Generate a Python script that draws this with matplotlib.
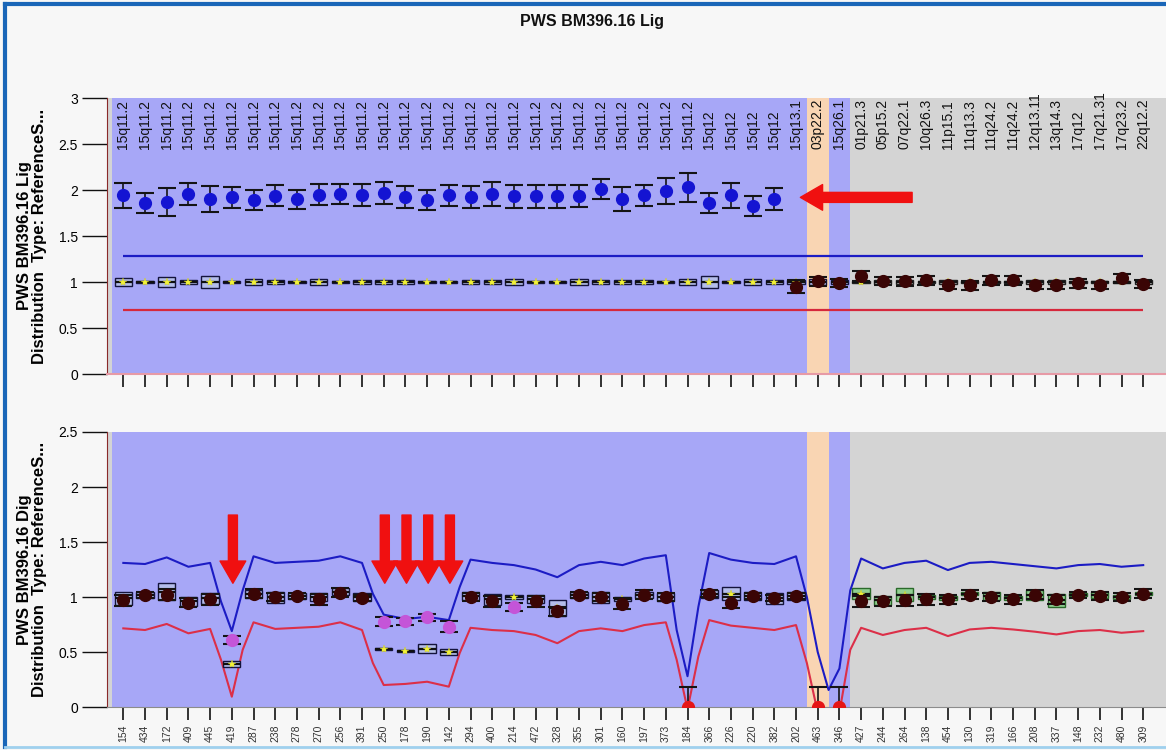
import numpy as np
import matplotlib
matplotlib.use("Agg")
import matplotlib.pyplot as plt
from matplotlib.ticker import FormatStrFormatter
from matplotlib.lines import Line2D

plt.rcParams['font.family'] = ['Liberation Sans', 'DejaVu Sans']

# probe ids (bottom axis) and their loci (top labels)
probe_ids = ["154", "434", "172", "409", "445", "419", "287", "238", "278", "270", "256", "391",
             "250", "178", "190", "142", "294", "400", "214", "472", "328", "355", "301", "160",
             "197", "373", "184", "366", "226", "220", "382", "202", "463", "346", "427", "244",
             "264", "138", "454", "130", "319", "166", "208", "337", "148", "232", "480", "309"]
loci = ["15q11.2", "15q11.2", "15q11.2", "15q11.2", "15q11.2", "15q11.2", "15q11.2", "15q11.2",
        "15q11.2", "15q11.2", "15q11.2", "15q11.2", "15q11.2", "15q11.2", "15q11.2", "15q11.2",
        "15q11.2", "15q11.2", "15q11.2", "15q11.2", "15q11.2", "15q11.2", "15q11.2", "15q11.2",
        "15q11.2", "15q11.2", "15q11.2", "15q12", "15q12", "15q12", "15q12", "15q13.1",
        "03p22.2", "15q26.1", "01p21.3", "05p15.2", "07q22.1", "10q26.3", "11p15.1", "11q13.3",
        "11q24.2", "11q24.2", "12q13.11", "13q14.3", "17q12", "17q21.31", "17q23.2", "22q12.2"]
# background region per probe: B = target chr15, O = control, G = reference probes
shade = list("BBBBBBBBBBBBBBBBBBBBBBBBBBBBBBBBOBGGGGGGGGGGGGGG")

# ---- Lig panel (top) ----
lig_ratio = [1.945, 1.855, 1.87, 1.96, 1.90, 1.92, 1.89, 1.94, 1.90, 1.95, 1.96, 1.945,
             1.97, 1.92, 1.89, 1.945, 1.92, 1.96, 1.93, 1.93, 1.93, 1.935, 2.01, 1.90,
             1.945, 1.99, 2.03, 1.855, 1.945, 1.83, 1.90, 0.95, 1.01, 0.99, 1.065, 1.01,
             1.01, 1.02, 0.965, 0.965, 1.02, 1.02, 0.965, 0.965, 0.985, 0.965, 1.04, 0.98]
lig_err = [0.135, 0.11, 0.15, 0.12, 0.14, 0.11, 0.11, 0.11, 0.105, 0.115, 0.11, 0.12,
           0.12, 0.12, 0.11, 0.115, 0.12, 0.13, 0.12, 0.12, 0.12, 0.12, 0.11, 0.13,
           0.115, 0.14, 0.16, 0.11, 0.135, 0.11, 0.12, 0.07, 0.05, 0.04, 0.05, 0.04,
           0.05, 0.05, 0.04, 0.05, 0.05, 0.05, 0.04, 0.04, 0.05, 0.04, 0.05, 0.04]
lig_call = list("GGGGGGGGGGGGGGGGGGGGGGGGGGGGGGGNNNNNNNNNNNNNNNNN")
lig_ref = [1.0, 1.0, 1.0, 1.0, 1.0, 1.0, 1.0, 1.0, 1.0, 1.0, 1.0, 1.0,
           1.0, 1.0, 1.0, 1.0, 1.0, 1.0, 1.0, 1.0, 1.0, 1.0, 1.0, 1.0,
           1.0, 1.0, 1.0, 1.0, 1.0, 1.0, 1.0, 1.0, 1.0, 1.0, 1.0, 1.0,
           1.0, 1.0, 1.0, 1.0, 1.0, 1.0, 1.0, 1.0, 1.0, 1.0, 1.0, 1.0]
lig_ref_box = [0.08, 0.03, 0.11, 0.05, 0.13, 0.03, 0.07, 0.04, 0.02, 0.06, 0.02, 0.05,
               0.05, 0.04, 0.02, 0.02, 0.04, 0.05, 0.06, 0.02, 0.02, 0.07, 0.05, 0.04,
               0.05, 0.02, 0.07, 0.13, 0.02, 0.07, 0.05, 0.05, 0.06, 0.05, 0.03, 0.05,
               0.05, 0.03, 0.04, 0.03, 0.03, 0.03, 0.04, 0.04, 0.03, 0.03, 0.03, 0.04]
lig_upper = 1.28
lig_lower = 0.70

# ---- Dig panel (bottom) ----
dig_ratio = [0.97, 1.02, 1.02, 0.95, 0.98, 0.61, 1.03, 1.00, 1.01, 0.98, 1.04, 0.99,
             0.775, 0.78, 0.815, 0.73, 1.00, 0.96, 0.91, 0.96, 0.87, 1.02, 1.00, 0.94,
             1.02, 1.00, 0.0, 1.03, 0.95, 1.01, 0.99, 1.01, 0.0, 0.0, 0.96, 0.96,
             0.97, 0.98, 0.98, 1.02, 1.00, 0.98, 1.02, 0.98, 1.02, 1.01, 1.00, 1.03]
dig_err = [0.05, 0.03, 0.05, 0.04, 0.05, 0.035, 0.04, 0.04, 0.03, 0.05, 0.04, 0.03,
           0.04, 0.03, 0.03, 0.05, 0.04, 0.05, 0.04, 0.05, 0.04, 0.03, 0.04, 0.05,
           0.04, 0.04, 0.185, 0.03, 0.05, 0.03, 0.03, 0.03, 0.185, 0.185, 0.05, 0.04,
           0.05, 0.05, 0.04, 0.04, 0.04, 0.04, 0.04, 0.04, 0.03, 0.04, 0.04, 0.04]
dig_call = list("NNNNNLNNNNNNLLLLNNLNNNNNNNZNNNNNZZNNNNNNNNNNNNNN")
dig_ref = [0.99, 1.02, 1.05, 0.96, 0.99, 0.39, 1.03, 1.00, 1.01, 1.00, 1.05, 1.00,
           0.525, 0.51, 0.53, 0.50, 1.01, 0.98, 1.00, 0.98, 0.90, 1.02, 1.00, 0.98,
           1.02, 1.00, np.nan, 1.03, 1.03, 1.01, 0.99, 1.01, np.nan, np.nan, 1.03, 0.97,
           1.02, 1.00, 0.99, 1.03, 1.01, 0.99, 1.02, 0.97, 1.02, 1.02, 1.00, 1.03]
dig_ref_box = [0.12, 0.06, 0.15, 0.08, 0.10, 0.05, 0.07, 0.10, 0.06, 0.07, 0.07, 0.07,
               0.02, 0.02, 0.08, 0.06, 0.08, 0.10, 0.04, 0.07, 0.14, 0.06, 0.10, 0.04,
               0.05, 0.08, 0.0, 0.07, 0.12, 0.08, 0.10, 0.08, 0.0, 0.0, 0.10, 0.08,
               0.12, 0.03, 0.03, 0.03, 0.08, 0.03, 0.09, 0.12, 0.03, 0.06, 0.03, 0.03]
# threshold curves (read at probe positions, plus a few half steps at the dips)
curve_pos = [0, 1, 2, 3, 4, 4.5, 5, 5.5, 6, 7, 8, 9, 10, 11, 11.5, 12, 13, 14, 15, 15.5,
             16, 17, 18, 19, 20, 21, 22, 23, 24, 25, 25.5, 26, 26.5, 27, 28, 29, 30, 31,
             31.5, 32, 32.5, 33, 33.5, 34, 35, 36, 37, 38, 39, 40, 41, 42, 43, 44, 45, 46, 47]
dig_upper = [1.31, 1.30, 1.36, 1.275, 1.31, 0.96, 0.69, 1.06, 1.37, 1.31, 1.32, 1.33, 1.37,
             1.31, 1.03, 0.84, 0.80, 0.82, 0.79, 1.09, 1.34, 1.31, 1.29, 1.25, 1.18, 1.29,
             1.32, 1.29, 1.35, 1.38, 0.70, 0.28, 0.91, 1.40, 1.34, 1.31, 1.30, 1.37, 1.00,
             0.50, 0.155, 0.35, 1.06, 1.35, 1.26, 1.31, 1.33, 1.245, 1.31, 1.32, 1.30, 1.28,
             1.26, 1.29, 1.30, 1.275, 1.29]
dig_lower = [0.715, 0.70, 0.755, 0.67, 0.71, 0.43, 0.094, 0.52, 0.77, 0.71, 0.72, 0.73, 0.77,
             0.70, 0.40, 0.20, 0.21, 0.23, 0.185, 0.49, 0.72, 0.70, 0.69, 0.655, 0.58, 0.69,
             0.715, 0.69, 0.745, 0.77, 0.43, -0.02, 0.46, 0.79, 0.74, 0.72, 0.70, 0.745, 0.40,
             -0.05, -0.35, -0.05, 0.52, 0.72, 0.655, 0.70, 0.72, 0.645, 0.705, 0.72, 0.705,
             0.685, 0.66, 0.69, 0.70, 0.675, 0.69]

shade_colors = {'B': '#a7a7f7', 'O': '#f9d5b3', 'G': '#d4d4d4'}
call_colors = {'G': '#1414d2', 'N': '#3a0505', 'L': '#c455d8', 'Z': '#e51515'}

x = np.arange(len(probe_ids))

fig = plt.figure(figsize=(11.66, 7.5), dpi=100, facecolor='#f7f7f7')
ax_top = fig.add_axes([0.0918, 0.5013, 0.9082, 0.368])
ax_bot = fig.add_axes([0.0918, 0.0573, 0.9082, 0.3667])


def draw_background(ax):
    ax.set_facecolor('#d4d4d4')
    start = 0
    for i in range(1, len(shade) + 1):
        if i == len(shade) or shade[i] != shade[start]:
            if shade[start] != 'G':
                ax.axvspan(start - 0.5, i - 0.5, color=shade_colors[shade[start]], lw=0, zorder=0)
            start = i


def draw_refs(ax, ref, ref_box, grey_face, grey_edge):
    ref = np.array(ref, dtype=float)
    ref_box = np.array(ref_box)
    ok = ~np.isnan(ref)
    in_grey = np.array([s == 'G' for s in shade])
    for sel, face, edge in [(ok & ~in_grey, '#b4bdea', '#14143c'),
                            (ok & in_grey, grey_face, grey_edge)]:
        ax.bar(x[sel], ref_box[sel], bottom=ref[sel] - ref_box[sel] / 2, width=0.8,
               facecolor=face, edgecolor=edge, lw=1.0, zorder=3)
        ax.hlines(ref[sel], x[sel] - 0.4, x[sel] + 0.4, color='#101010', lw=1.6, zorder=3.5)
    ax.plot(x[ok], ref[ok], ls='none', marker='*', ms=6, color='#f2f23a',
            markeredgewidth=0.3, markeredgecolor='#c8c820', zorder=4)


def draw_samples(ax, ratio, err, call):
    ratio = np.array(ratio)
    err = np.array(err)
    for code, col in call_colors.items():
        sel = np.array([c == code for c in call])
        if not sel.any():
            continue
        ax.errorbar(x[sel], ratio[sel], yerr=err[sel], fmt='o', ms=8.5, color=col,
                    mec=col, ecolor='#141414', elinewidth=1.2, capsize=6.5, capthick=1.5,
                    zorder=5)


for ax in (ax_top, ax_bot):
    draw_background(ax)
    ax.set_xlim(-0.75, 48.05)
    ax.set_xticks(x)
    ax.tick_params(axis='x', direction='out', length=9, width=1.2, color='#111111')
    ax.tick_params(axis='y', direction='out', length=18, width=1.0, color='#111111',
                   labelsize=10, pad=3)
    ax.yaxis.set_major_formatter(FormatStrFormatter('%g'))
    ax.spines['top'].set_visible(False)
    ax.spines['right'].set_visible(False)
    ax.spines['left'].set_color('#8a2a2a')

# top panel
ax_top.set_ylim(0, 3)
ax_top.set_yticks([0, 0.5, 1, 1.5, 2, 2.5, 3])
ax_top.set_xticklabels([])
ax_top.spines['bottom'].set_color('#e79aa6')
ax_top.spines['bottom'].set_linewidth(1.5)
ax_top.hlines(lig_upper, x[0], x[-1], color='#1c1cc4', lw=1.6, zorder=2)
ax_top.hlines(lig_lower, x[0], x[-1], color='#d6283c', lw=1.6, zorder=2)
draw_refs(ax_top, lig_ref, lig_ref_box, '#b4b4b4', '#202020')
draw_samples(ax_top, lig_ratio, lig_err, lig_call)
for xi, lab in zip(x, loci):
    ax_top.text(xi, 2.45, lab, rotation=90, ha='center', va='bottom', fontsize=10,
                color='#111111', clip_on=False, zorder=6)
ax_top.annotate('', xy=(31.2, 1.92), xytext=(36.35, 1.92),
                arrowprops=dict(arrowstyle='simple,head_length=1.6,head_width=1.85,tail_width=0.72',
                                color='#f01010', shrinkA=0, shrinkB=0, mutation_scale=10),
                zorder=7)
ax_top.set_ylabel('PWS BM396.16 Lig\nDistribution  Type: ReferenceS...', fontsize=12,
                  fontweight='bold', linespacing=1.0)
ax_top.yaxis.set_label_coords(-0.057, 0.5)

# bottom panel
ax_bot.set_ylim(0, 2.5)
ax_bot.set_yticks([0, 0.5, 1, 1.5, 2, 2.5])
ax_bot.set_xticklabels(probe_ids, rotation=90, fontsize=7.5, color='#333333')
ax_bot.spines['bottom'].set_color('#8c8c8c')
ax_bot.plot(curve_pos, dig_upper, color='#1c1cc4', lw=1.5, zorder=2, solid_joinstyle='round')
ax_bot.plot(curve_pos, dig_lower, color='#dc2f48', lw=1.5, zorder=2, solid_joinstyle='round')
draw_refs(ax_bot, dig_ref, dig_ref_box, '#92d092', '#2a6a2a')
draw_samples(ax_bot, dig_ratio, dig_err, dig_call)
for i, c in enumerate(dig_call):
    if c == 'L' and dig_ref[i] < 0.8:
        ax_bot.annotate('', xy=(i + 0.05, 1.125), xytext=(i + 0.05, 1.745),
                        arrowprops=dict(arrowstyle='simple,head_length=1.6,head_width=1.85,tail_width=0.65',
                                        color='#f01010', shrinkA=0, shrinkB=0, mutation_scale=10),
                        zorder=7)
ax_bot.set_ylabel('PWS BM396.16 Dig\nDistribution  Type: ReferenceS...', fontsize=12,
                  fontweight='bold', linespacing=1.0)
ax_bot.yaxis.set_label_coords(-0.057, 0.5)

fig.text(0.508, 0.971, 'PWS BM396.16 Lig', ha='center', va='center', fontsize=11.5,
         fontweight='bold', color='#111111')

# window frame
fig.add_artist(Line2D([0.004, 0.004], [0.004, 0.995], color='#1a66b8', lw=3))
fig.add_artist(Line2D([0.004, 1.0], [0.995, 0.995], color='#1a66b8', lw=3))
fig.add_artist(Line2D([0.004, 1.0], [0.004, 0.004], color='#9fd0ee', lw=2))

fig.savefig('out.png', dpi=100, facecolor=fig.get_facecolor())
